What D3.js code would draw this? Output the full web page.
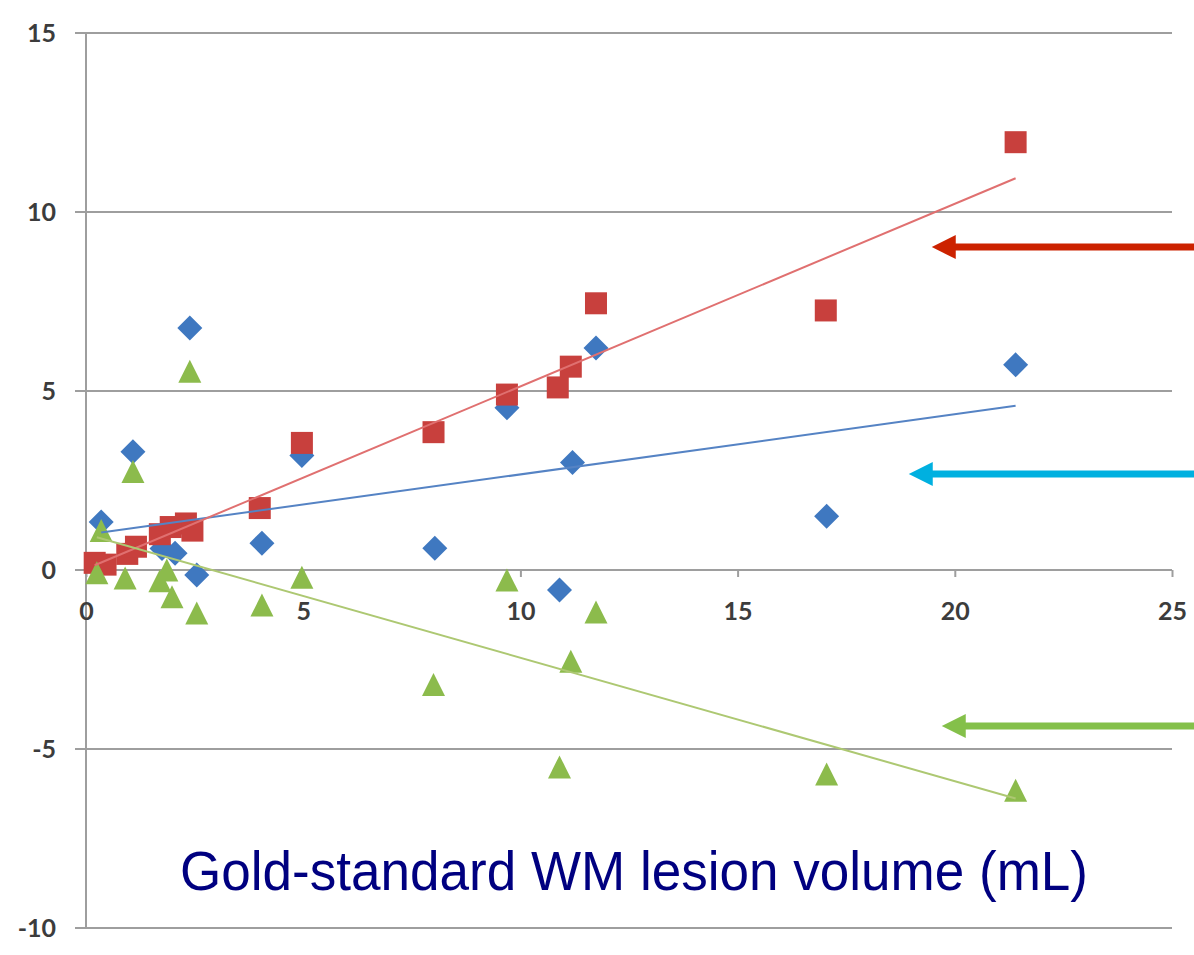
<!DOCTYPE html>
<html>
<head>
<meta charset="utf-8">
<script src="https://cdn.jsdelivr.net/npm/d3@7"></script>
<style>
  body { margin: 0; background: #fff; }
  svg { display: block; }
</style>
</head>
<body>
<svg id="chart" width="1194" height="955"></svg>
<script>
// values
const blueX = [0.35, 1.08, 2.39, 1.75, 2.05, 2.55, 4.05, 4.97, 8.03, 9.69, 10.9, 11.2, 11.74, 17.05, 21.4];
const blueY = [1.34, 3.3, 6.76, 0.6, 0.47, -0.14, 0.75, 3.2, 0.61, 4.53, -0.56, 3.0, 6.2, 1.5, 5.73];

const redX = [0.2, 0.45, 0.95, 1.15, 1.7, 1.95, 2.3, 2.45, 4.0, 4.97, 8.0, 9.69, 10.86, 11.16, 11.74, 17.03, 21.4];
const redY = [0.2, 0.15, 0.45, 0.65, 1.0, 1.2, 1.3, 1.1, 1.73, 3.55, 3.85, 4.9, 5.1, 5.68, 7.45, 7.25, 11.95];

const greenX = [0.35, 0.25, 0.9, 1.08, 1.7, 1.86, 1.98, 2.39, 2.55, 4.05, 4.97, 8.0, 9.69, 10.9, 11.16, 11.74, 17.05, 21.4];
const greenY = [1.1, -0.08, -0.22, 2.75, -0.3, 0.0, -0.75, 5.55, -1.2, -0.98, -0.2, -3.2, -0.28, -5.5, -2.55, -1.17, -5.7, -6.15];

// linear trend lines (slope, intercept) as seen in the picture
const trendSlope = { blue: 0.168, red: 0.51, green: -0.345 };
const trendIntercept = { blue: 0.99, red: 0.03, green: 1.0 };

const xTicks = [0, 5, 10, 15, 20, 25];
const yTicks = [-10, -5, 0, 5, 10, 15];

// annotation arrows: level (y value) and tip (x value)
const arrowY = [9.02, 2.68, -4.36];
const arrowTipX = [19.47, 18.94, 19.7];
const arrowColors = ['#cc2200', '#00b0e0', '#84c04a'];

const title = 'Gold-standard WM lesion volume (mL)';

const svg = d3.select('#chart');

const x = d3.scaleLinear().domain([0, 25]).range([86, 1172]);
const y = d3.scaleLinear().domain([-10, 15]).range([928, 33]);

const gridColor = '#9e9e9e';
const labelFont = 'Lato, "Open Sans", sans-serif';

// horizontal gridlines (also act as y ticks to the left of the axis)
svg.append('g').selectAll('line')
  .data(yTicks)
  .enter().append('line')
    .attr('x1', 75)
    .attr('x2', x(25))
    .attr('y1', d => y(d))
    .attr('y2', d => y(d))
    .attr('stroke', gridColor)
    .attr('stroke-width', 2.2);

// vertical axis line
svg.append('line')
  .attr('x1', x(0)).attr('x2', x(0))
  .attr('y1', y(15)).attr('y2', y(-10))
  .attr('stroke', gridColor)
  .attr('stroke-width', 2);

// y tick labels
svg.append('g').selectAll('text')
  .data(yTicks)
  .enter().append('text')
    .attr('x', 56)
    .attr('y', d => y(d))
    .attr('dy', '0.36em')
    .attr('text-anchor', 'end')
    .style('font-family', labelFont)
    .style('font-size', '25px')
    .style('font-weight', 'bold')
    .style('fill', '#3c3c3c')
    .text(d => d);

// x axis along y = 0
const xAxis = svg.append('g')
  .attr('transform', `translate(0, ${y(0)})`)
  .call(d3.axisBottom(x).tickValues(xTicks).tickSize(7).tickSizeOuter(0));
xAxis.select('.domain').remove();
xAxis.selectAll('.tick line')
  .attr('stroke', gridColor)
  .attr('stroke-width', 2);
xAxis.selectAll('.tick text')
  .attr('y', 41)
  .attr('dy', '0.36em')
  .style('font-family', labelFont)
  .style('font-size', '25px')
  .style('font-weight', 'bold')
  .style('fill', '#3c3c3c');

// markers: blue diamonds, red squares, green triangles
const zip = (xs, ys) => xs.map((v, i) => [v, ys[i]]);

svg.append('g').selectAll('path')
  .data(zip(blueX, blueY))
  .enter().append('path')
    .attr('d', 'M0,-12.5L12.5,0L0,12.5L-12.5,0Z')
    .attr('transform', d => `translate(${x(d[0])},${y(d[1])})`)
    .attr('fill', '#3f78c0');

svg.append('g').selectAll('rect')
  .data(zip(redX, redY))
  .enter().append('rect')
    .attr('x', d => x(d[0]) - 11)
    .attr('y', d => y(d[1]) - 11)
    .attr('width', 22)
    .attr('height', 22)
    .attr('fill', '#c8403d');

svg.append('g').selectAll('path')
  .data(zip(greenX, greenY))
  .enter().append('path')
    .attr('d', 'M0,-11.5L11.5,11.5L-11.5,11.5Z')
    .attr('transform', d => `translate(${x(d[0])},${y(d[1])})`)
    .attr('fill', '#8cbb4c');

// trend lines drawn over the markers
const trends = [
  { key: 'blue', xs: blueX, color: '#5583c4' },
  { key: 'red', xs: redX, color: '#e07070' },
  { key: 'green', xs: greenX, color: '#adc872' }
];
svg.append('g').selectAll('line')
  .data(trends)
  .enter().append('line')
    .attr('x1', d => x(d3.min(d.xs)))
    .attr('x2', d => x(d3.max(d.xs)))
    .attr('y1', d => y(trendIntercept[d.key] + trendSlope[d.key] * d3.min(d.xs)))
    .attr('y2', d => y(trendIntercept[d.key] + trendSlope[d.key] * d3.max(d.xs)))
    .attr('stroke', d => d.color)
    .attr('stroke-width', 2);

// arrows on the right
const arrows = svg.append('g').selectAll('g')
  .data(arrowY.map((v, i) => ({ y: v, tip: arrowTipX[i], color: arrowColors[i] })))
  .enter().append('g');
arrows.append('line')
  .attr('x1', d => x(d.tip) + 20)
  .attr('x2', 1194)
  .attr('y1', d => y(d.y))
  .attr('y2', d => y(d.y))
  .attr('stroke', d => d.color)
  .attr('stroke-width', 7);
arrows.append('path')
  .attr('d', d => {
    const tx = x(d.tip), ty = y(d.y);
    return `M${tx},${ty}L${tx + 24},${ty - 12}L${tx + 24},${ty + 12}Z`;
  })
  .attr('fill', d => d.color);

// axis title
svg.append('text')
  .attr('x', 634)
  .attr('y', 890)
  .attr('text-anchor', 'middle')
  .attr('textLength', 908)
  .attr('lengthAdjust', 'spacingAndGlyphs')
  .style('font-family', '"Liberation Sans", Arial, sans-serif')
  .style('font-size', '56px')
  .style('fill', '#000080')
  .text(title);
</script>
</body>
</html>
